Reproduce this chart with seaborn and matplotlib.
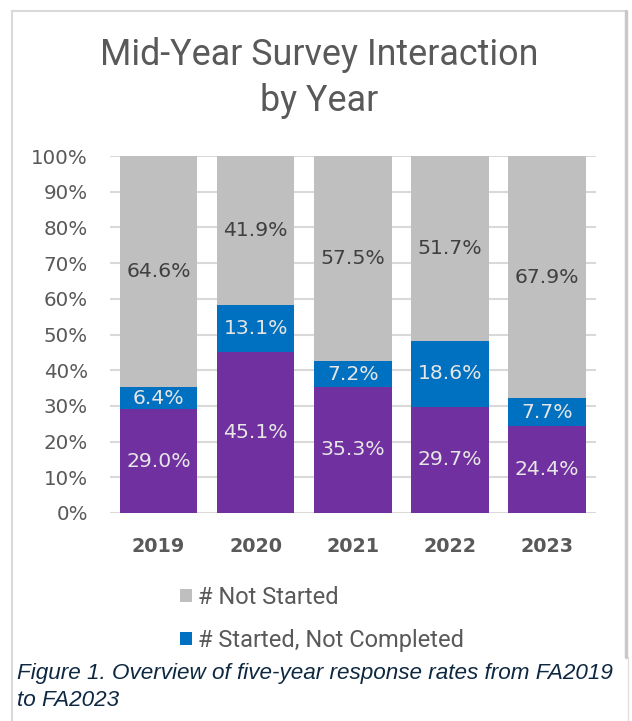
import matplotlib
matplotlib.use("Agg")
import matplotlib.pyplot as plt
from matplotlib.patches import Patch
from matplotlib.lines import Line2D
import numpy as np
import pandas as pd
import seaborn as sns

# Survey interaction shares by year (percent of students)
years = ["2019", "2020", "2021", "2022", "2023"]
completed = [29.0, 45.1, 35.3, 29.7, 24.4]
started_not_completed = [6.4, 13.1, 7.2, 18.6, 7.7]
not_started = [64.6, 41.9, 57.5, 51.7, 67.9]

series_names = ["# Not Started", "# Started, Not Completed"]
title_lines = ["Mid-Year Survey Interaction", "by Year"]
caption_lines = ["Figure 1. Overview of five-year response rates from FA2019",
                 "to FA2023"]

GRAY = "#BFBFBF"
BLUE = "#0070C0"
PURPLE = "#7030A0"
TEXT = "#595959"

sns.set_theme(style="white")
plt.rcParams["font.family"] = ["DejaVu Sans"]

df = pd.DataFrame({
    "year": years,
    "completed": completed,
    "started": started_not_completed,
    "not_started": not_started,
})
df["top_blue"] = df["completed"] + df["started"]
df["top_gray"] = df["top_blue"] + df["not_started"]

W, H = 632, 721
fig = plt.figure(figsize=(W / 100, H / 100), dpi=100)
fig.patch.set_facecolor("white")

ax = fig.add_axes([110 / W, 1 - 513 / H, 485.5 / W, (513 - 156) / H])

# Stacked bars: draw cumulative heights from the back to the front
for col, color in [("top_gray", GRAY), ("top_blue", BLUE), ("completed", PURPLE)]:
    sns.barplot(data=df, x="year", y=col, color=color, width=0.8,
                saturation=1, ax=ax, zorder=3, linewidth=0)

ax.set_xlim(-0.5, len(years) - 0.5)
ax.set_ylim(0, 100)
ax.set_yticks(np.arange(0, 101, 10))
ax.set_yticklabels([f"{v}%" for v in range(0, 101, 10)])
ax.yaxis.grid(True, color="#D9D9D9", linewidth=1.5, zorder=0)
ax.set_axisbelow(True)
for s in ax.spines.values():
    s.set_visible(False)
ax.set_xlabel("")
ax.set_ylabel("")
ax.tick_params(axis="y", length=0, pad=16, labelsize=14.3, labelcolor=TEXT)
ax.tick_params(axis="x", length=0, pad=17, labelsize=13.8, labelcolor=TEXT)
for lab in ax.get_xticklabels():
    lab.set_fontweight("bold")

# Segment value labels, centred in each segment
for i in range(len(years)):
    c, s, n = completed[i], started_not_completed[i], not_started[i]
    ax.text(i, c / 2, f"{c:.1f}%", ha="center", va="center",
            fontsize=14.7, color="#E6E6E6", zorder=5)
    ax.text(i, c + s / 2, f"{s:.1f}%", ha="center", va="center",
            fontsize=14.7, color="#E6E6E6", zorder=5)
    ax.text(i, c + s + n / 2, f"{n:.1f}%", ha="center", va="center",
            fontsize=14.7, color="#404040", zorder=5)

# Title
fig.text(319 / W, 1 - 55 / H, title_lines[0], ha="center", va="center",
         fontsize=25.8, color=TEXT, family="Roboto")
fig.text(319 / W, 1 - 101 / H, title_lines[1], ha="center", va="center",
         fontsize=25.8, color=TEXT, family="Roboto")

# Legend
handles = [Patch(facecolor=GRAY, edgecolor="none"),
           Patch(facecolor=BLUE, edgecolor="none")]
leg = fig.legend(handles, series_names, loc="center left",
                 bbox_to_anchor=(180 / W, 1 - 619 / H), frameon=False,
                 handlelength=0.5, handleheight=0.5, handletextpad=0.25,
                 labelspacing=0.85, borderpad=0, borderaxespad=0,
                 prop={"family": "Roboto", "size": 17})
for t in leg.get_texts():
    t.set_color(TEXT)

# Chart frame
frame_col = "#D9D9D9"
fig.add_artist(Line2D([12 / W, 12 / W], [1 - 11 / H, 0], color=frame_col,
                      lw=1.5, transform=fig.transFigure))
fig.add_artist(Line2D([12 / W, 626 / W], [1 - 11 / H, 1 - 11 / H],
                      color=frame_col, lw=1.5, transform=fig.transFigure))
fig.add_artist(Line2D([626 / W, 626 / W], [1 - 11 / H, 1 - 657 / H],
                      color="#C8C8C8", lw=2.5, transform=fig.transFigure))
fig.add_artist(Line2D([628 / W, 628 / W], [1 - 657 / H, 0],
                      color="#E0E0E0", lw=1.0, transform=fig.transFigure))

# Caption
fig.text(17 / W, 1 - 673 / H, caption_lines[0], ha="left", va="center",
         fontsize=16.2, style="italic", color="#0E2841",
         family="Liberation Sans")
fig.text(17 / W, 1 - 701 / H, caption_lines[1], ha="left", va="center",
         fontsize=16.2, style="italic", color="#0E2841",
         family="Liberation Sans")

fig.savefig("out.png", dpi=100, facecolor="white")
